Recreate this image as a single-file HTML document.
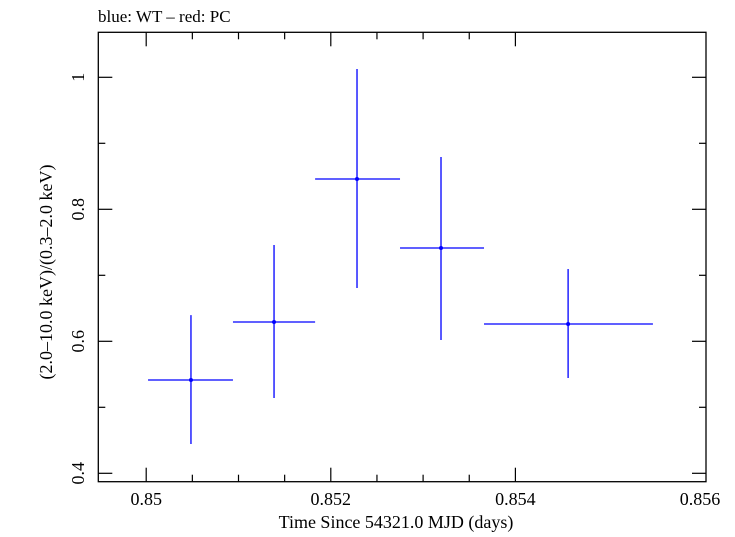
<!DOCTYPE html>
<html><head><meta charset="utf-8"><style>
body{margin:0;background:#fff;}
svg text{font-family:"Liberation Serif",serif;fill:#000;}
</style></head><body>
<svg id="c" width="735" height="532" xmlns="http://www.w3.org/2000/svg">
<text x="98" y="22" font-size="17">blue: WT – red: PC</text>
<rect x="98.3" y="32.3" width="607.7" height="449.4" fill="none" stroke="#000" stroke-width="1.3"/>
<text x="396" y="528" font-size="18" text-anchor="middle">Time Since 54321.0 MJD (days)</text>
<text transform="translate(52,272) rotate(-90)" font-size="18" text-anchor="middle">(2.0–10.0 keV)/(0.3–2.0 keV)</text>
<g id="ax"></g><g id="marks"></g>
</svg>
<script>
const xTicks=[0.85,0.852,0.854,0.856];
const xTickLabels=["0.85","0.852","0.854","0.856"];
const yTicks=[0.4,0.6,0.8,1.0];
const yTickLabels=["0.4","0.6","0.8","1"];
const tCenter=[0.850485,0.851385,0.852284,0.853194,0.854571];
const tLow=[0.85002,0.85094,0.85183,0.85275,0.85366];
const tHigh=[0.85094,0.85183,0.85275,0.85366,0.85549];
const ratio=[0.5414,0.6292,0.8459,0.7414,0.6262];
const ratioLow=[0.4443,0.5141,0.6808,0.6020,0.5444];
const ratioHigh=[0.6397,0.7459,1.0126,0.8792,0.7095];
const X0=98.3,X1=706,Y0=481.7,Y1=32.3;
const xs=v=>146.2+(v-0.85)*92300;
const ys=v=>77.3+(1-v)*660;
const NS="http://www.w3.org/2000/svg";
function mk(tag,attrs,parent){const e=document.createElementNS(NS,tag);for(const k in attrs)e.setAttribute(k,attrs[k]);parent.appendChild(e);return e;}
const ax=document.getElementById('ax'),mg=document.getElementById('marks');
for(let i=0;i<=8;i++){const v=0.85+i*0.0005;const x=xs(v);if(x>X1+1)break;const L=(i%4===0)?14:7;
 const t1=mk('line',{x1:x,x2:x,y1:Y0,y2:Y0-L,stroke:'#000','stroke-width':1.2},ax);
 
 
 const t2=mk('line',{x1:x,x2:x,y1:Y1,y2:Y1+L,stroke:'#000','stroke-width':1.2},ax);
 
 }
xTicks.forEach((v,i)=>{const t=mk('text',{x:xs(v),y:505,'font-size':18,'text-anchor':'middle'},ax);t.textContent=xTickLabels[i];
 
 });
for(let i=0;i<=7;i++){const v=0.4+i*0.1;const y=ys(v);if(y<Y1)break;const L=(i%2===0)?14:7;
 const t1=mk('line',{x1:X0,x2:X0+L,y1:y,y2:y,stroke:'#000','stroke-width':1.2},ax);
 
 
 const t2=mk('line',{x1:X1,x2:X1-L,y1:y,y2:y,stroke:'#000','stroke-width':1.2},ax);
 
 }
yTicks.forEach((v,i)=>{const t=mk('text',{transform:`translate(84,${ys(v)}) rotate(-90)`,'font-size':18,'text-anchor':'middle'},ax);t.textContent=yTickLabels[i];
 
 });
tCenter.forEach((t,i)=>{
 const h=mk('line',{x1:xs(tLow[i]),x2:xs(tHigh[i]),y1:ys(ratio[i]),y2:ys(ratio[i]),stroke:'#0000ff','stroke-width':1.3},mg);
 
 
 const v=mk('line',{x1:xs(t),x2:xs(t),y1:ys(ratioLow[i]),y2:ys(ratioHigh[i]),stroke:'#0000ff','stroke-width':1.3},mg);
 
 
 const p=mk('circle',{cx:xs(t),cy:ys(ratio[i]),r:2,fill:'#0000ff'},mg);
 
 
});
</script>
</body></html>
